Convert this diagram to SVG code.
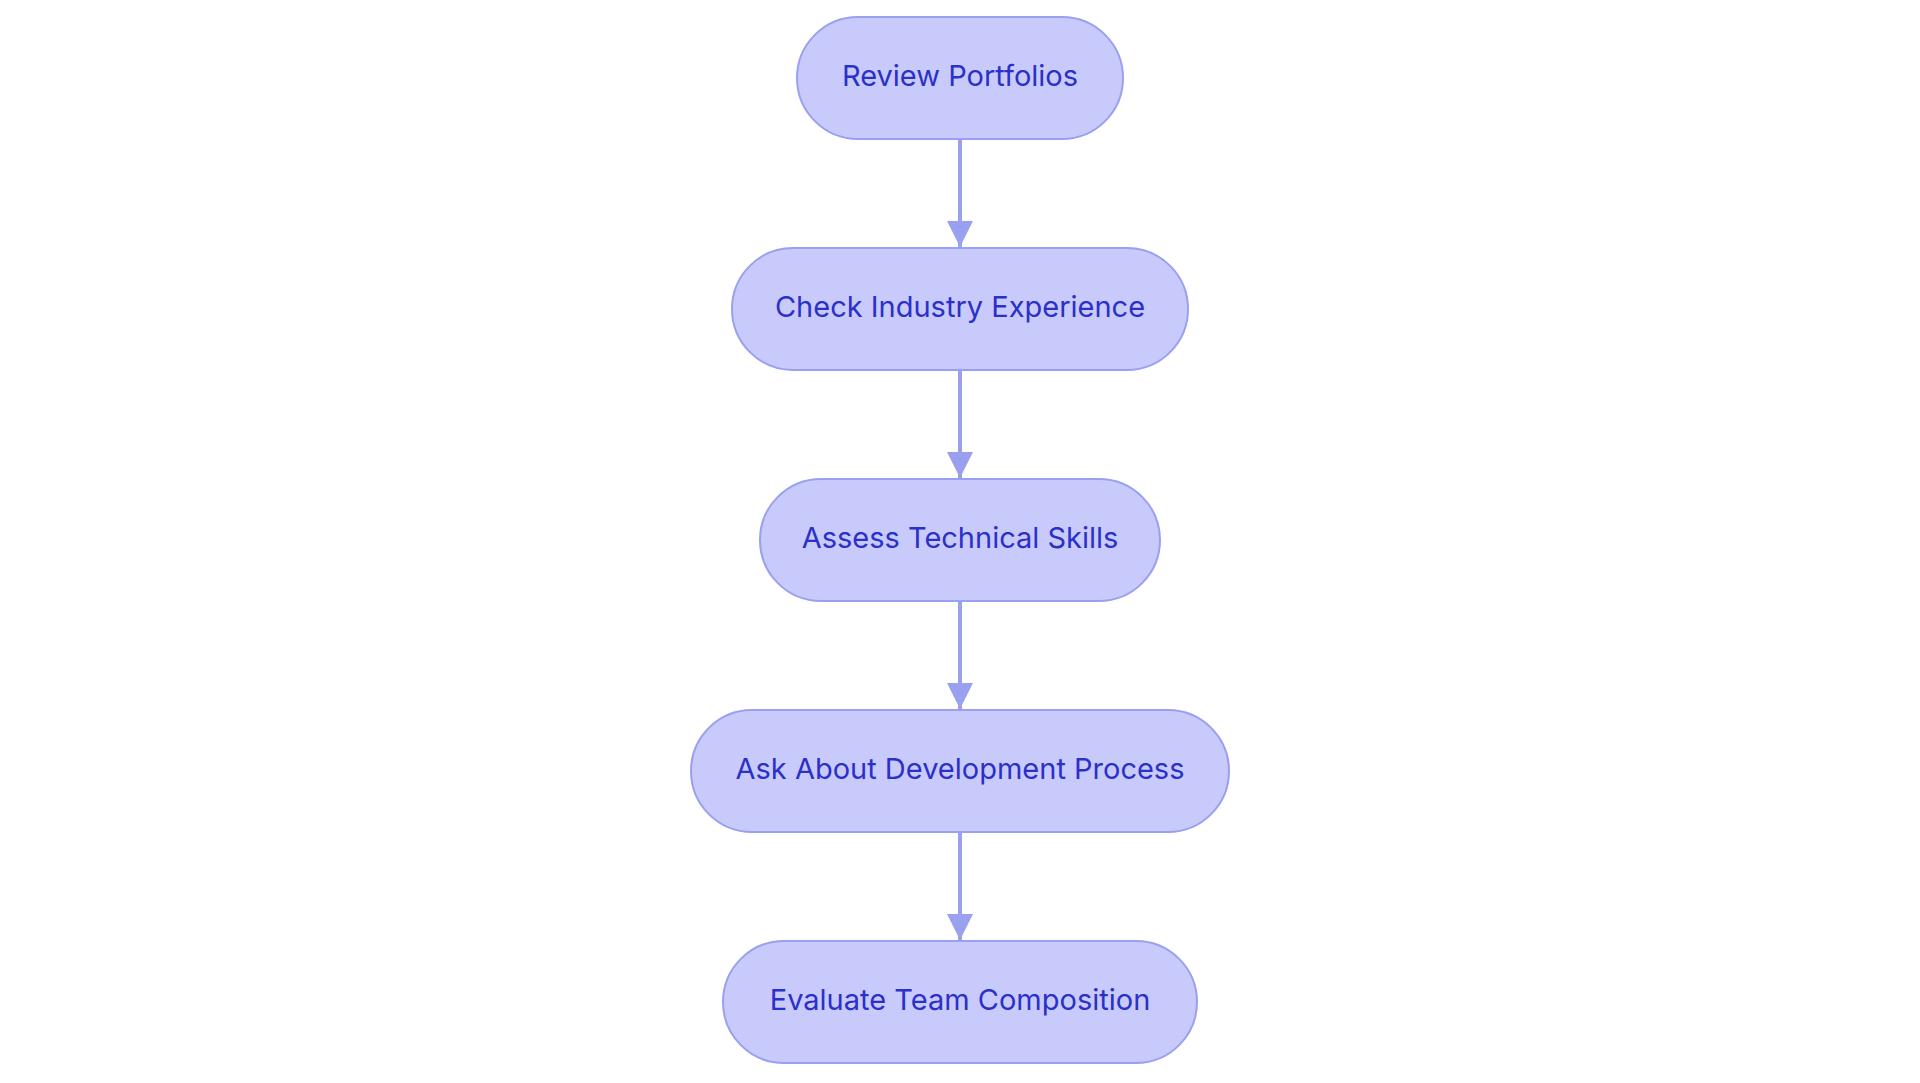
<svg xmlns="http://www.w3.org/2000/svg" width="1920" height="1083" viewBox="0 0 1920 1083">
<style>
.node rect{fill:#c9cafc;stroke:#9aa0f0;stroke-width:2}
.node text{font-family:Inter,"Noto Sans",sans-serif;font-size:29px;fill:#2a30c8;text-anchor:middle}
.edge{stroke:#9aa0f0;stroke-width:4;fill:none}
</style>
<defs>
<marker id="ah" markerWidth="26" markerHeight="26" refX="26" refY="13" orient="auto" markerUnits="userSpaceOnUse">
<path d="M0,0 L26,13 L0,26 Z" fill="#9aa0f0"/>
</marker>
</defs>
<rect width="1920" height="1083" fill="#ffffff"/>
<g id="connectors">
<line class="edge" x1="960" y1="139" x2="960" y2="247" marker-end="url(#ah)"/>
<line class="edge" x1="960" y1="370" x2="960" y2="478" marker-end="url(#ah)"/>
<line class="edge" x1="960" y1="601" x2="960" y2="709" marker-end="url(#ah)"/>
<line class="edge" x1="960" y1="832" x2="960" y2="940" marker-end="url(#ah)"/>
</g>
<g id="n1" class="node"><rect x="797" y="17" width="326" height="122" rx="61"/><text x="960" y="86">Review Portfolios</text></g>
<g id="n2" class="node"><rect x="732" y="248" width="456" height="122" rx="61"/><text x="960" y="317">Check Industry Experience</text></g>
<g id="n3" class="node"><rect x="760" y="479" width="400" height="122" rx="61"/><text x="960" y="548">Assess Technical Skills</text></g>
<g id="n4" class="node"><rect x="691" y="710" width="538" height="122" rx="61"/><text x="960" y="779">Ask About Development Process</text></g>
<g id="n5" class="node"><rect x="723" y="941" width="474" height="122" rx="61"/><text x="960" y="1010">Evaluate Team Composition</text></g>
</svg>
